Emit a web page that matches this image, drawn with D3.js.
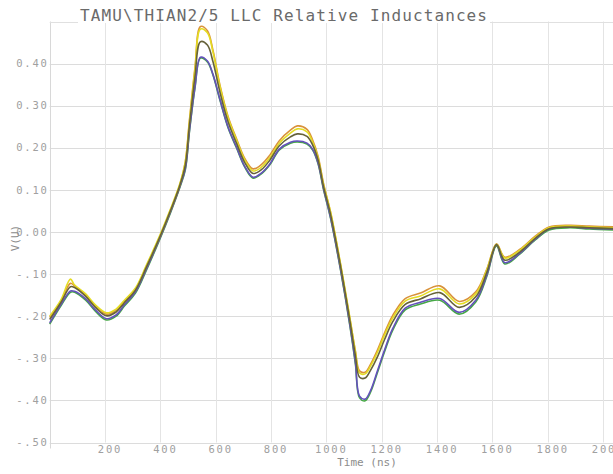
<!DOCTYPE html>
<html>
<head>
<meta charset="utf-8">
<script src="https://cdn.jsdelivr.net/npm/d3@7"></script>
<style>
  html, body { margin: 0; padding: 0; background: #fff; }
  svg { display: block; }
</style>
</head>
<body>
<svg id="chart" width="613" height="474"></svg>
<script>
// Sample times (ns)
const times = [0,40,75,90,130,165,205,240,270,310,350,400,435,470,490,505,525,545,570,590,615,645,675,705,735,765,795,830,870,895,930,950,970,990,1015,1050,1085,1105,1120,1140,1160,1185,1210,1240,1285,1340,1410,1480,1540,1580,1615,1645,1700,1755,1805,1880,1950,2040];

// Relative inductance of each winding
const windingA = [-0.200,-0.162,-0.112,-0.126,-0.147,-0.173,-0.192,-0.183,-0.162,-0.133,-0.078,-0.005,0.052,0.114,0.166,0.261,0.385,0.482,0.473,0.428,0.347,0.271,0.219,0.171,0.145,0.154,0.176,0.211,0.235,0.245,0.238,0.214,0.176,0.112,0.048,-0.071,-0.204,-0.285,-0.335,-0.337,-0.318,-0.285,-0.245,-0.204,-0.164,-0.152,-0.135,-0.171,-0.147,-0.090,-0.029,-0.062,-0.043,-0.012,0.010,0.014,0.012,0.010];
const windingB = [-0.203,-0.165,-0.122,-0.128,-0.150,-0.176,-0.195,-0.186,-0.165,-0.136,-0.081,-0.008,0.049,0.111,0.166,0.265,0.390,0.488,0.478,0.432,0.350,0.274,0.222,0.175,0.150,0.160,0.182,0.217,0.242,0.252,0.244,0.219,0.180,0.114,0.047,-0.073,-0.206,-0.283,-0.330,-0.333,-0.314,-0.280,-0.240,-0.198,-0.158,-0.145,-0.128,-0.165,-0.142,-0.088,-0.028,-0.060,-0.041,-0.010,0.012,0.016,0.014,0.012];
const windingC = [-0.208,-0.168,-0.130,-0.132,-0.153,-0.179,-0.199,-0.190,-0.168,-0.138,-0.083,-0.009,0.048,0.110,0.158,0.252,0.368,0.452,0.444,0.405,0.333,0.261,0.211,0.165,0.139,0.148,0.170,0.205,0.226,0.233,0.227,0.207,0.171,0.107,0.042,-0.077,-0.211,-0.294,-0.345,-0.347,-0.328,-0.296,-0.256,-0.213,-0.172,-0.159,-0.144,-0.179,-0.154,-0.096,-0.030,-0.067,-0.047,-0.015,0.008,0.012,0.010,0.008];
const windingD = [-0.216,-0.173,-0.140,-0.141,-0.159,-0.185,-0.206,-0.197,-0.173,-0.142,-0.087,-0.012,0.045,0.107,0.150,0.240,0.344,0.415,0.406,0.375,0.316,0.249,0.202,0.156,0.130,0.140,0.161,0.197,0.213,0.216,0.211,0.197,0.164,0.102,0.035,-0.084,-0.220,-0.310,-0.390,-0.397,-0.376,-0.329,-0.281,-0.229,-0.181,-0.167,-0.158,-0.191,-0.162,-0.102,-0.031,-0.073,-0.050,-0.017,0.007,0.012,0.009,0.007];
const windingE = [-0.219,-0.176,-0.143,-0.143,-0.162,-0.188,-0.209,-0.200,-0.176,-0.145,-0.090,-0.014,0.043,0.105,0.147,0.238,0.342,0.413,0.404,0.373,0.314,0.247,0.200,0.154,0.128,0.138,0.159,0.195,0.211,0.214,0.209,0.195,0.162,0.100,0.033,-0.086,-0.223,-0.314,-0.394,-0.401,-0.380,-0.333,-0.285,-0.233,-0.185,-0.171,-0.162,-0.195,-0.166,-0.105,-0.033,-0.076,-0.052,-0.019,0.005,0.010,0.007,0.005];

// Axis ticks
const xTicks = [200,400,600,800,1000,1200,1400,1600,1800,2000];
const yTicks = [0.4,0.3,0.2,0.1,0.0,-0.1,-0.2,-0.3,-0.4,-0.5];
const yTickLabels = ["0.40","0.30","0.20","0.10","0.00","-.10","-.20","-.30","-.40","-.50"];

const titleText = "TAMU\\THIAN2/5 LLC Relative Inductances";
const xTitle = "Time (ns)";
const yTitle = "V(U)";

// Drawing order and stroke colours
const series = [
  { values: windingE, color: "#46a846" },
  { values: windingD, color: "#6450bc" },
  { values: windingB, color: "#d9923a" },
  { values: windingA, color: "#e4dc22" },
  { values: windingC, color: "#66623a" }
];

const W = 613, H = 474;
const plotLeft = 49.7, plotRight = 613, plotTop = 21.5, plotBottom = 442.5;

const x = d3.scaleLinear().domain([0, 2036]).range([plotLeft, plotRight]);
const y = d3.scaleLinear().domain([-0.5, 0.5]).range([plotBottom, plotTop]);

const svg = d3.select("#chart");
svg.append("rect").attr("width", W).attr("height", H).attr("fill", "#fff");

const mono = "'DejaVu Sans Mono', 'Liberation Mono', monospace";

// Grid
const grid = svg.append("g");
grid.selectAll("line.h").data(yTicks).join("line")
  .attr("class", "h")
  .attr("x1", plotLeft).attr("x2", plotRight)
  .attr("y1", d => Math.round(y(d)) + 0.5).attr("y2", d => Math.round(y(d)) + 0.5)
  .attr("stroke", "#dcdcdc").attr("stroke-width", 1);
grid.selectAll("line.v").data(xTicks).join("line")
  .attr("class", "v")
  .attr("x1", d => Math.round(x(d)) + 0.5).attr("x2", d => Math.round(x(d)) + 0.5)
  .attr("y1", plotTop).attr("y2", plotBottom)
  .attr("stroke", "#e4e4e4").attr("stroke-width", 1);

// Frame
svg.append("line").attr("x1", Math.round(plotLeft) + 0.5).attr("x2", Math.round(plotLeft) + 0.5)
  .attr("y1", plotTop).attr("y2", plotBottom + 6).attr("stroke", "#d8d8d8");
svg.append("line").attr("x1", plotLeft).attr("x2", plotRight)
  .attr("y1", Math.round(plotTop) + 0.5).attr("y2", Math.round(plotTop) + 0.5).attr("stroke", "#e0e0e0");

// Y tick labels
svg.append("g").selectAll("text").data(yTicks).join("text")
  .attr("x", plotLeft - 1)
  .attr("y", d => y(d))
  .attr("dy", "0.35em")
  .attr("text-anchor", "end")
  .attr("font-family", mono)
  .attr("font-size", 10.5)
  .attr("letter-spacing", 1.8)
  .attr("fill", "#a0a0a0")
  .text((d, i) => yTickLabels[i]);

// X tick labels
svg.append("g").selectAll("text").data(xTicks).join("text")
  .attr("x", d => x(d) + 5)
  .attr("y", plotBottom + 7)
  .attr("dy", "0.35em")
  .attr("text-anchor", "middle")
  .attr("font-family", mono)
  .attr("font-size", 10.5)
  .attr("letter-spacing", 1.8)
  .attr("fill", "#a0a0a0")
  .text(d => String(d));

// Axis titles
svg.append("text")
  .attr("x", 367).attr("y", 466)
  .attr("text-anchor", "middle")
  .attr("font-family", mono)
  .attr("font-size", 11)
  .attr("fill", "#8c8c8c")
  .text(xTitle);

svg.append("text")
  .attr("transform", `translate(19, ${y(0) + 6}) rotate(-90)`)
  .attr("text-anchor", "middle")
  .attr("font-family", mono)
  .attr("font-size", 11)
  .attr("fill", "#8c8c8c")
  .text(yTitle);

// Title on a white band
svg.append("rect").attr("x", 78).attr("y", 4).attr("width", 412).attr("height", 19).attr("fill", "#fff");
svg.append("text")
  .attr("x", 80).attr("y", 21)
  .attr("font-family", mono)
  .attr("font-size", 16)
  .attr("textLength", 407)
  .attr("lengthAdjust", "spacing")
  .attr("fill", "#6a6a6a")
  .text(titleText);

// Curves
const line = d3.line()
  .x((d, i) => x(times[i]))
  .y(d => y(d))
  .curve(d3.curveCatmullRom.alpha(0.5));

const plot = svg.append("g");
plot.selectAll("path").data(series).join("path")
  .attr("d", s => line(s.values))
  .attr("fill", "none")
  .attr("stroke", s => s.color)
  .attr("stroke-width", 1.6)
  .attr("stroke-linejoin", "round");
</script>
</body>
</html>
